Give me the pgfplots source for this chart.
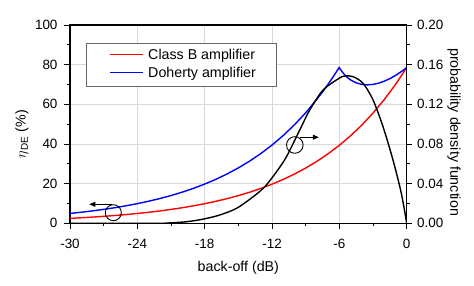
\documentclass[border=0pt]{standalone}
\usepackage{pgfplots}
\pgfplotsset{compat=1.18}
\usepackage{fontspec}
\setmainfont{Liberation Sans}
\usetikzlibrary{arrows.meta}

\begin{document}
\begin{tikzpicture}
\useasboundingbox (-70bp,-62.7bp) rectangle (404bp,223.3bp);
\pgfplotsset{
  every axis/.append style={
    scale only axis, width=336.7bp, height=198.3bp,
    xmin=-30, xmax=0,
    tick align=outside,
    major tick length=5.5bp, minor tick length=3bp,
    every tick/.style={black, line width=0.9bp},
    axis line style={-, line width=1.1bp},
    tick label style={font=\fontsize{13.5}{16}\selectfont},
    label style={font=\fontsize{14.3}{17}\selectfont},
  }
}
\begin{axis}[
  ymin=0, ymax=100,
  xtick={-30,-24,-18,-12,-6,0}, xticklabels={-30,-24,-18,-12,-6,0},
  minor xtick={-27,-21,-15,-9,-3},
  ytick={0,20,40,60,80,100}, yticklabels={0,20,40,60,80,100},
  minor ytick={10,30,50,70,90},
  xtick pos=bottom, ytick pos=left,
  xticklabel style={yshift=-6.5bp},
  yticklabel style={xshift=-3.5bp},
  grid=major, major grid style={black!15, line width=0.6bp},
  xlabel={back-off (dB)},
  ylabel={$\eta$\textsubscript{DE} (\%)},
  xlabel style={at={(rel axis cs:0.5,-0.225)}, anchor=center},
  ylabel style={at={(rel axis cs:-0.1426,0.45)}, anchor=center},
]
\addplot[red, line width=1.4bp] coordinates {
(-30,2.484) (-29,2.787) (-28,3.127) (-27,3.508) (-26,3.936) (-25,4.417)
(-24,4.955) (-23,5.560) (-22,6.239) (-21,7.000) (-20,7.854) (-19,8.812)
(-18,9.888) (-17,11.094) (-16,12.448) (-15,13.967) (-14,15.671) (-13,17.583)
(-12,19.728) (-11,22.136) (-10,24.836) (-9,27.867) (-8,31.267) (-7,35.082)
(-6,39.363) (-5,44.166) (-4,49.555) (-3,55.602) (-2,62.387) (-1,69.998) (0,78.54)
};
\addplot[blue, line width=1.4bp] coordinates {
(-30,4.968) (-29,5.573) (-28,6.254) (-27,7.016) (-26,7.872) (-25,8.833)
(-24,9.910) (-23,11.120) (-22,12.478) (-21,14.000) (-20,15.708) (-19,17.624)
(-18,19.776) (-17,22.188) (-16,24.896) (-15,27.934) (-14,31.342) (-13,35.166)
(-12,39.456) (-11,44.272) (-10,49.672) (-9,55.734) (-8,62.534) (-7.5,66.24) (-7,70.164)
(-6.5,74.32) (-6.0206,78.54)
(-5.75,76.40) (-5.5,74.70) (-5.25,73.37) (-5,72.30) (-4.5,70.82) (-4,70.04) (-3.5,69.81)
(-3,70.05) (-2.5,70.68) (-2,71.66) (-1.5,72.96) (-1,74.55) (-0.5,76.41) (0,78.54)
};
% legend box
\draw[black!60, line width=0.6bp, fill=white] (rel axis cs:0.0475,0.9092) rectangle (rel axis cs:0.6118,0.6924);
\draw[red, line width=1.4bp] (rel axis cs:0.1188,0.8522) -- (rel axis cs:0.2168,0.8522);
\draw[blue, line width=1.4bp] (rel axis cs:0.1188,0.7615) -- (rel axis cs:0.2168,0.7615);
\node[anchor=base west, inner sep=0pt, font=\fontsize{14.3}{17}\selectfont] at (rel axis cs:0.2317,0.8270) {Class B amplifier};
\node[anchor=base west, inner sep=0pt, font=\fontsize{14.3}{17}\selectfont] at (rel axis cs:0.2317,0.7362) {Doherty amplifier};
% annotations
\draw[line width=0.9bp] (axis cs:-26.14,5.35) circle[radius=8bp];
\draw[line width=1bp, -{Triangle[length=6bp,width=5bp]}] (axis cs:-26.29,9.58) -- (axis cs:-28.28,9.58);
\draw[line width=0.9bp] (axis cs:-9.97,39.5) circle[radius=8.3bp];
\draw[line width=1bp, -{Triangle[length=6bp,width=5bp]}] (axis cs:-9.52,43.4) -- (axis cs:-7.83,43.4);
\end{axis}
\begin{axis}[
  ymin=0, ymax=0.2,
  axis y line*=right, axis x line=none,
  ytick={0,0.04,0.08,0.12,0.16,0.2}, yticklabels={0.00,0.04,0.08,0.12,0.16,0.20},
  minor ytick={0.02,0.06,0.10,0.14,0.18},
  yticklabel style={xshift=1.5bp},
  ylabel={probability density function},
  ylabel style={at={(rel axis cs:1.1405,0.46)}, anchor=center, rotate=180},
]
\addplot[black, line width=1.4bp, smooth, tension=0.5] coordinates {
(-30,0) (-26,0) (-22,0) (-21,0.0005) (-19.6,0.0016) (-18.1,0.0043) (-16.65,0.0084)
(-15.16,0.0151) (-13.68,0.0268) (-12.64,0.0369) (-11.6,0.0520) (-10.71,0.0672)
(-9.53,0.0941) (-8.64,0.1143) (-7.45,0.1344) (-6.03,0.1462) (-5.52,0.1486)
(-4.78,0.1479) (-3.89,0.1412) (-3.0,0.1244) (-2.11,0.0974) (-1.22,0.0638)
(-0.48,0.0303) (0,0)
};
\end{axis}
\end{tikzpicture}
\end{document}
